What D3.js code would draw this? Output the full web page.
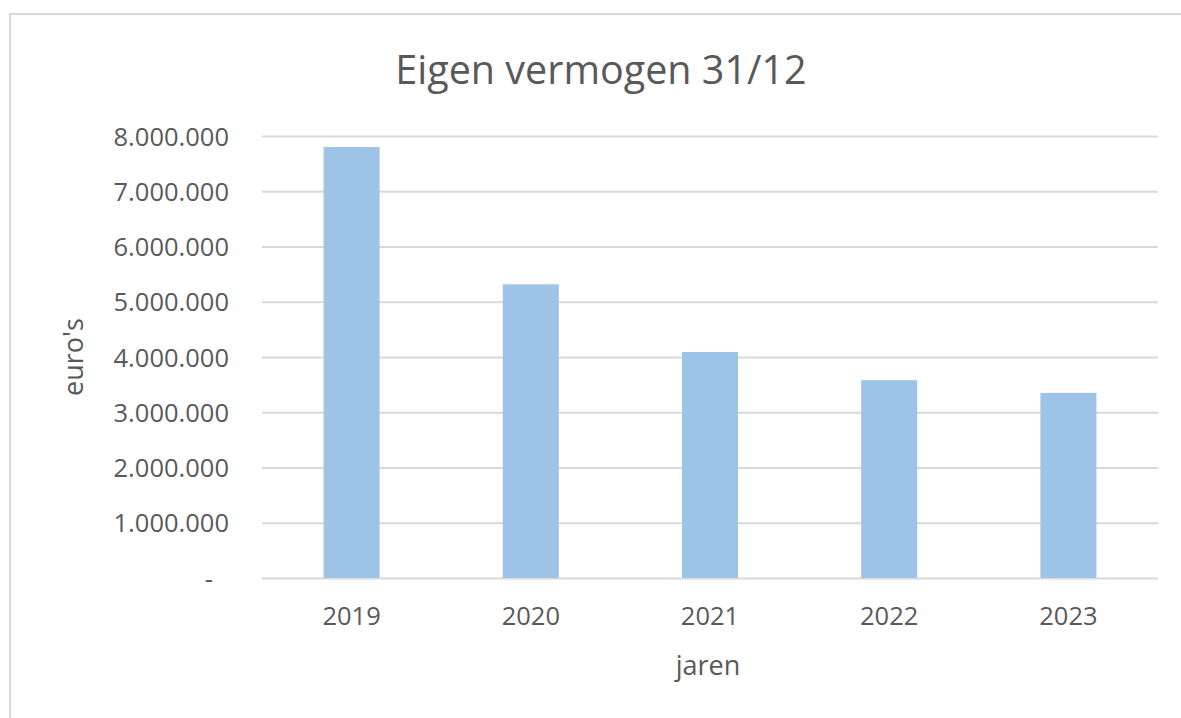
<!DOCTYPE html>
<html>
<head>
<meta charset="utf-8">
<script src="https://cdn.jsdelivr.net/npm/d3@7"></script>
<style>
  html, body { margin: 0; padding: 0; background: #ffffff; }
  svg { display: block; }
  text { font-family: "Open Sans", "Noto Sans", sans-serif; fill: #595959; }
</style>
</head>
<body>
<svg id="chart" width="1181" height="718"></svg>
<script>
const categories = ["2019", "2020", "2021", "2022", "2023"];
const values = [7800000, 5315000, 4090000, 3580000, 3350000];
const yTicks = [0, 1000000, 2000000, 3000000, 4000000, 5000000, 6000000, 7000000, 8000000];
const title = "Eigen vermogen 31/12";
const xTitle = "jaren";
const yTitle = "euro's";

const W = 1181, H = 718;
const margin = { left: 262, right: 23, top: 136, bottom: 140 };
const plotW = W - margin.left - margin.right;
const plotH = H - margin.top - margin.bottom;

const svg = d3.select("#chart");

// chart frame (top and left edges visible)
svg.append("path")
  .attr("d", `M10,${H} L10,14 L${W},14`)
  .attr("fill", "none")
  .attr("stroke", "#d9d9d9")
  .attr("stroke-width", 2);

const g = svg.append("g").attr("transform", `translate(${margin.left},${margin.top})`);

const x = d3.scaleBand().domain(categories).range([0, plotW])
  .paddingInner(0.6875).paddingOuter(0.34375);
const y = d3.scaleLinear().domain([0, 8000000]).range([plotH, 0]);

const nlLocale = d3.formatLocale({ decimal: ",", thousands: ".", grouping: [3], currency: ["€", ""] });
const fmt = nlLocale.format(",.0f");

// y axis with gridlines
const yAxis = g.append("g")
  .call(d3.axisLeft(y).tickValues(yTicks).tickSize(-plotW).tickPadding(33)
    .tickFormat(d => d === 0 ? "-" : fmt(d)));
yAxis.select(".domain").remove();
yAxis.selectAll(".tick line").attr("stroke", "#d9d9d9").attr("stroke-width", 2);
yAxis.selectAll(".tick text")
  .attr("font-size", 25.5)
  .attr("font-family", "Open Sans")
  .attr("fill", "#595959")
  .attr("dy", "0.36em")
  .attr("dx", d => d === 0 ? -16 : 0);

// bars
g.selectAll("rect.bar").data(values).enter().append("rect")
  .attr("class", "bar")
  .attr("x", (d, i) => x(categories[i]))
  .attr("width", x.bandwidth())
  .attr("y", d => y(d))
  .attr("height", d => plotH - y(d))
  .attr("fill", "#9dc3e6");

// x axis labels
const xAxis = g.append("g").attr("transform", `translate(0,${plotH})`)
  .call(d3.axisBottom(x).tickSize(0).tickPadding(0));
xAxis.select(".domain").remove();
xAxis.selectAll(".tick text")
  .attr("font-size", 25.5)
  .attr("font-family", "Open Sans")
  .attr("fill", "#595959")
  .attr("dy", null)
  .attr("y", 46.5);

// title
svg.append("text")
  .attr("x", 601).attr("y", 83.5)
  .attr("text-anchor", "middle")
  .attr("font-size", 39.5)
  .text(title);

// x axis title
svg.append("text")
  .attr("x", margin.left + plotW / 2 - 2).attr("y", 675)
  .attr("text-anchor", "middle")
  .attr("font-size", 27)
  .text(xTitle);

// y axis title
svg.append("text")
  .attr("transform", `translate(83,${margin.top + plotH / 2}) rotate(-90)`)
  .attr("text-anchor", "middle")
  .attr("font-size", 27)
  .text(yTitle);
</script>
</body>
</html>
